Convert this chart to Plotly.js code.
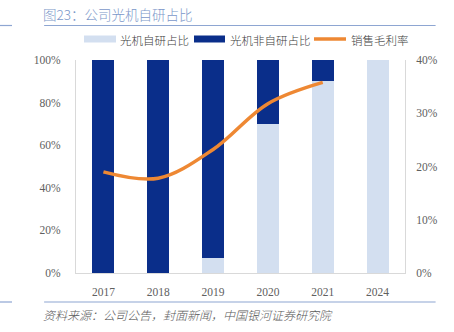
<!DOCTYPE html>
<html>
<head>
<meta charset="utf-8">
<script src="https://cdn.plot.ly/plotly-3.0.1.min.js"></script>
<style>html,body{margin:0;padding:0;background:#fff;}#chart{width:454px;height:332px;}</style>
</head>
<body>
<div id="chart"></div>
<script>
const years = ['2017', '2018', '2019', '2020', '2021', '2024'];
const selfShare = [0, 0, 0.07, 0.70, 0.90, 1.00];
const nonSelfShare = [1.00, 1.00, 0.93, 0.30, 0.10, 0];
const grossMargin = [0.19, 0.178, 0.232, 0.318, 0.358, null];

const seriesNames = ['光机自研占比', '光机非自研占比', '销售毛利率'];
const titleText = '图23：公司光机自研占比';
const sourceText = '资料来源：公司公告，封面新闻，中国银河证券研究院';

const cLight = '#d3dff0', cDark = '#0a2e8a', cOrange = '#ee8833';
const cjk = '"Noto Sans CJK SC", "Noto Sans", sans-serif';
const serif = '"Liberation Serif", "DejaVu Serif", serif';

const traces = [
  {type: 'bar', x: years, y: selfShare, name: seriesNames[0], marker: {color: cLight}, width: 0.4, hoverinfo: 'skip'},
  {type: 'bar', x: years, y: nonSelfShare, name: seriesNames[1], marker: {color: cDark}, width: 0.4, hoverinfo: 'skip'},
  {type: 'scatter', mode: 'lines', x: years, y: grossMargin, name: seriesNames[2], yaxis: 'y2',
   line: {color: cOrange, width: 3.5, shape: 'spline', smoothing: 1}, connectgaps: false, hoverinfo: 'skip'}
];

const tickFont = {family: serif, size: 11.5, color: '#606060'};

const layout = {
  width: 454, height: 332,
  margin: {l: 76, r: 49, t: 60, b: 59, pad: 0},
  paper_bgcolor: '#fff', plot_bgcolor: '#fff',
  barmode: 'stack',
  showlegend: false,
  xaxis: {type: 'category', showline: true, linecolor: '#d9d9d9', linewidth: 1, ticks: '', showgrid: false,
          tickfont: tickFont, ticklabelstandoff: 8, zeroline: false},
  yaxis: {range: [0, 1], dtick: 0.2, tickformat: '.0%', showline: true, linecolor: '#d9d9d9', linewidth: 1,
          showgrid: false, zeroline: false, ticks: '', tickfont: tickFont, ticklabelstandoff: 12},
  yaxis2: {range: [0, 0.4], dtick: 0.1, tickformat: '.0%', overlaying: 'y', side: 'right', showline: true,
           linecolor: '#d9d9d9', linewidth: 1, showgrid: false, zeroline: false, ticks: '', tickfont: tickFont,
           ticklabelstandoff: 8},
  shapes: [
    {type: 'line', xref: 'paper', yref: 'paper', x0: -0.0969, x1: 1.093, y0: 1 + 34.5/213, y1: 1 + 34.5/213,
     line: {color: '#8ea6d2', width: 1.2}},
    {type: 'line', xref: 'paper', yref: 'paper', x0: -0.0969, x1: 1.093, y0: -29/213, y1: -29/213,
     line: {color: '#8ea6d2', width: 1.2}},
    {type: 'line', xref: 'paper', yref: 'paper', x0: -76/329, x1: -64/329, y0: 1 + 34.5/213, y1: 1 + 34.5/213,
     line: {color: '#8ea6d2', width: 1.2}},
    {type: 'line', xref: 'paper', yref: 'paper', x0: -76/329, x1: -64/329, y0: -29/213, y1: -29/213,
     line: {color: '#8ea6d2', width: 1.2}},
    {type: 'rect', xref: 'paper', yref: 'paper', x0: (84-76)/329, x1: (116-76)/329, y0: 1 + (60-42.5)/213, y1: 1 + (60-35.5)/213,
     fillcolor: cLight, line: {width: 0}},
    {type: 'rect', xref: 'paper', yref: 'paper', x0: (194-76)/329, x1: (225-76)/329, y0: 1 + (60-42.5)/213, y1: 1 + (60-35.5)/213,
     fillcolor: cDark, line: {width: 0}},
    {type: 'line', xref: 'paper', yref: 'paper', x0: (314-76)/329, x1: (346-76)/329, y0: 1 + (60-39)/213, y1: 1 + (60-39)/213,
     line: {color: cOrange, width: 3.5}}
  ],
  annotations: [
    {text: titleText, xref: 'paper', yref: 'paper', x: (41-76)/329, y: 1 + (60-14)/213, xanchor: 'left', yanchor: 'middle',
     showarrow: false, font: {family: cjk, size: 13.5, color: '#7b97c9', weight: 300}},
    {text: seriesNames[0], xref: 'paper', yref: 'paper', x: (118-76)/329, y: 1 + (60-39.5)/213, xanchor: 'left', yanchor: 'middle',
     showarrow: false, font: {family: cjk, size: 11.5, color: '#404040', weight: 300}},
    {text: seriesNames[1], xref: 'paper', yref: 'paper', x: (228-76)/329, y: 1 + (60-39.5)/213, xanchor: 'left', yanchor: 'middle',
     showarrow: false, font: {family: cjk, size: 11.5, color: '#404040', weight: 300}},
    {text: seriesNames[2], xref: 'paper', yref: 'paper', x: (349-76)/329, y: 1 + (60-39.5)/213, xanchor: 'left', yanchor: 'middle',
     showarrow: false, font: {family: cjk, size: 11.5, color: '#404040', weight: 300}},
    {text: '<i>' + sourceText + '</i>', xref: 'paper', yref: 'paper', x: (41-76)/329, y: -(314-273)/213, xanchor: 'left', yanchor: 'middle',
     showarrow: false, font: {family: cjk, size: 12, color: '#595959', weight: 300}}
  ]
};

Plotly.newPlot('chart', traces, layout, {staticPlot: true, displayModeBar: false});
</script>
</body>
</html>
